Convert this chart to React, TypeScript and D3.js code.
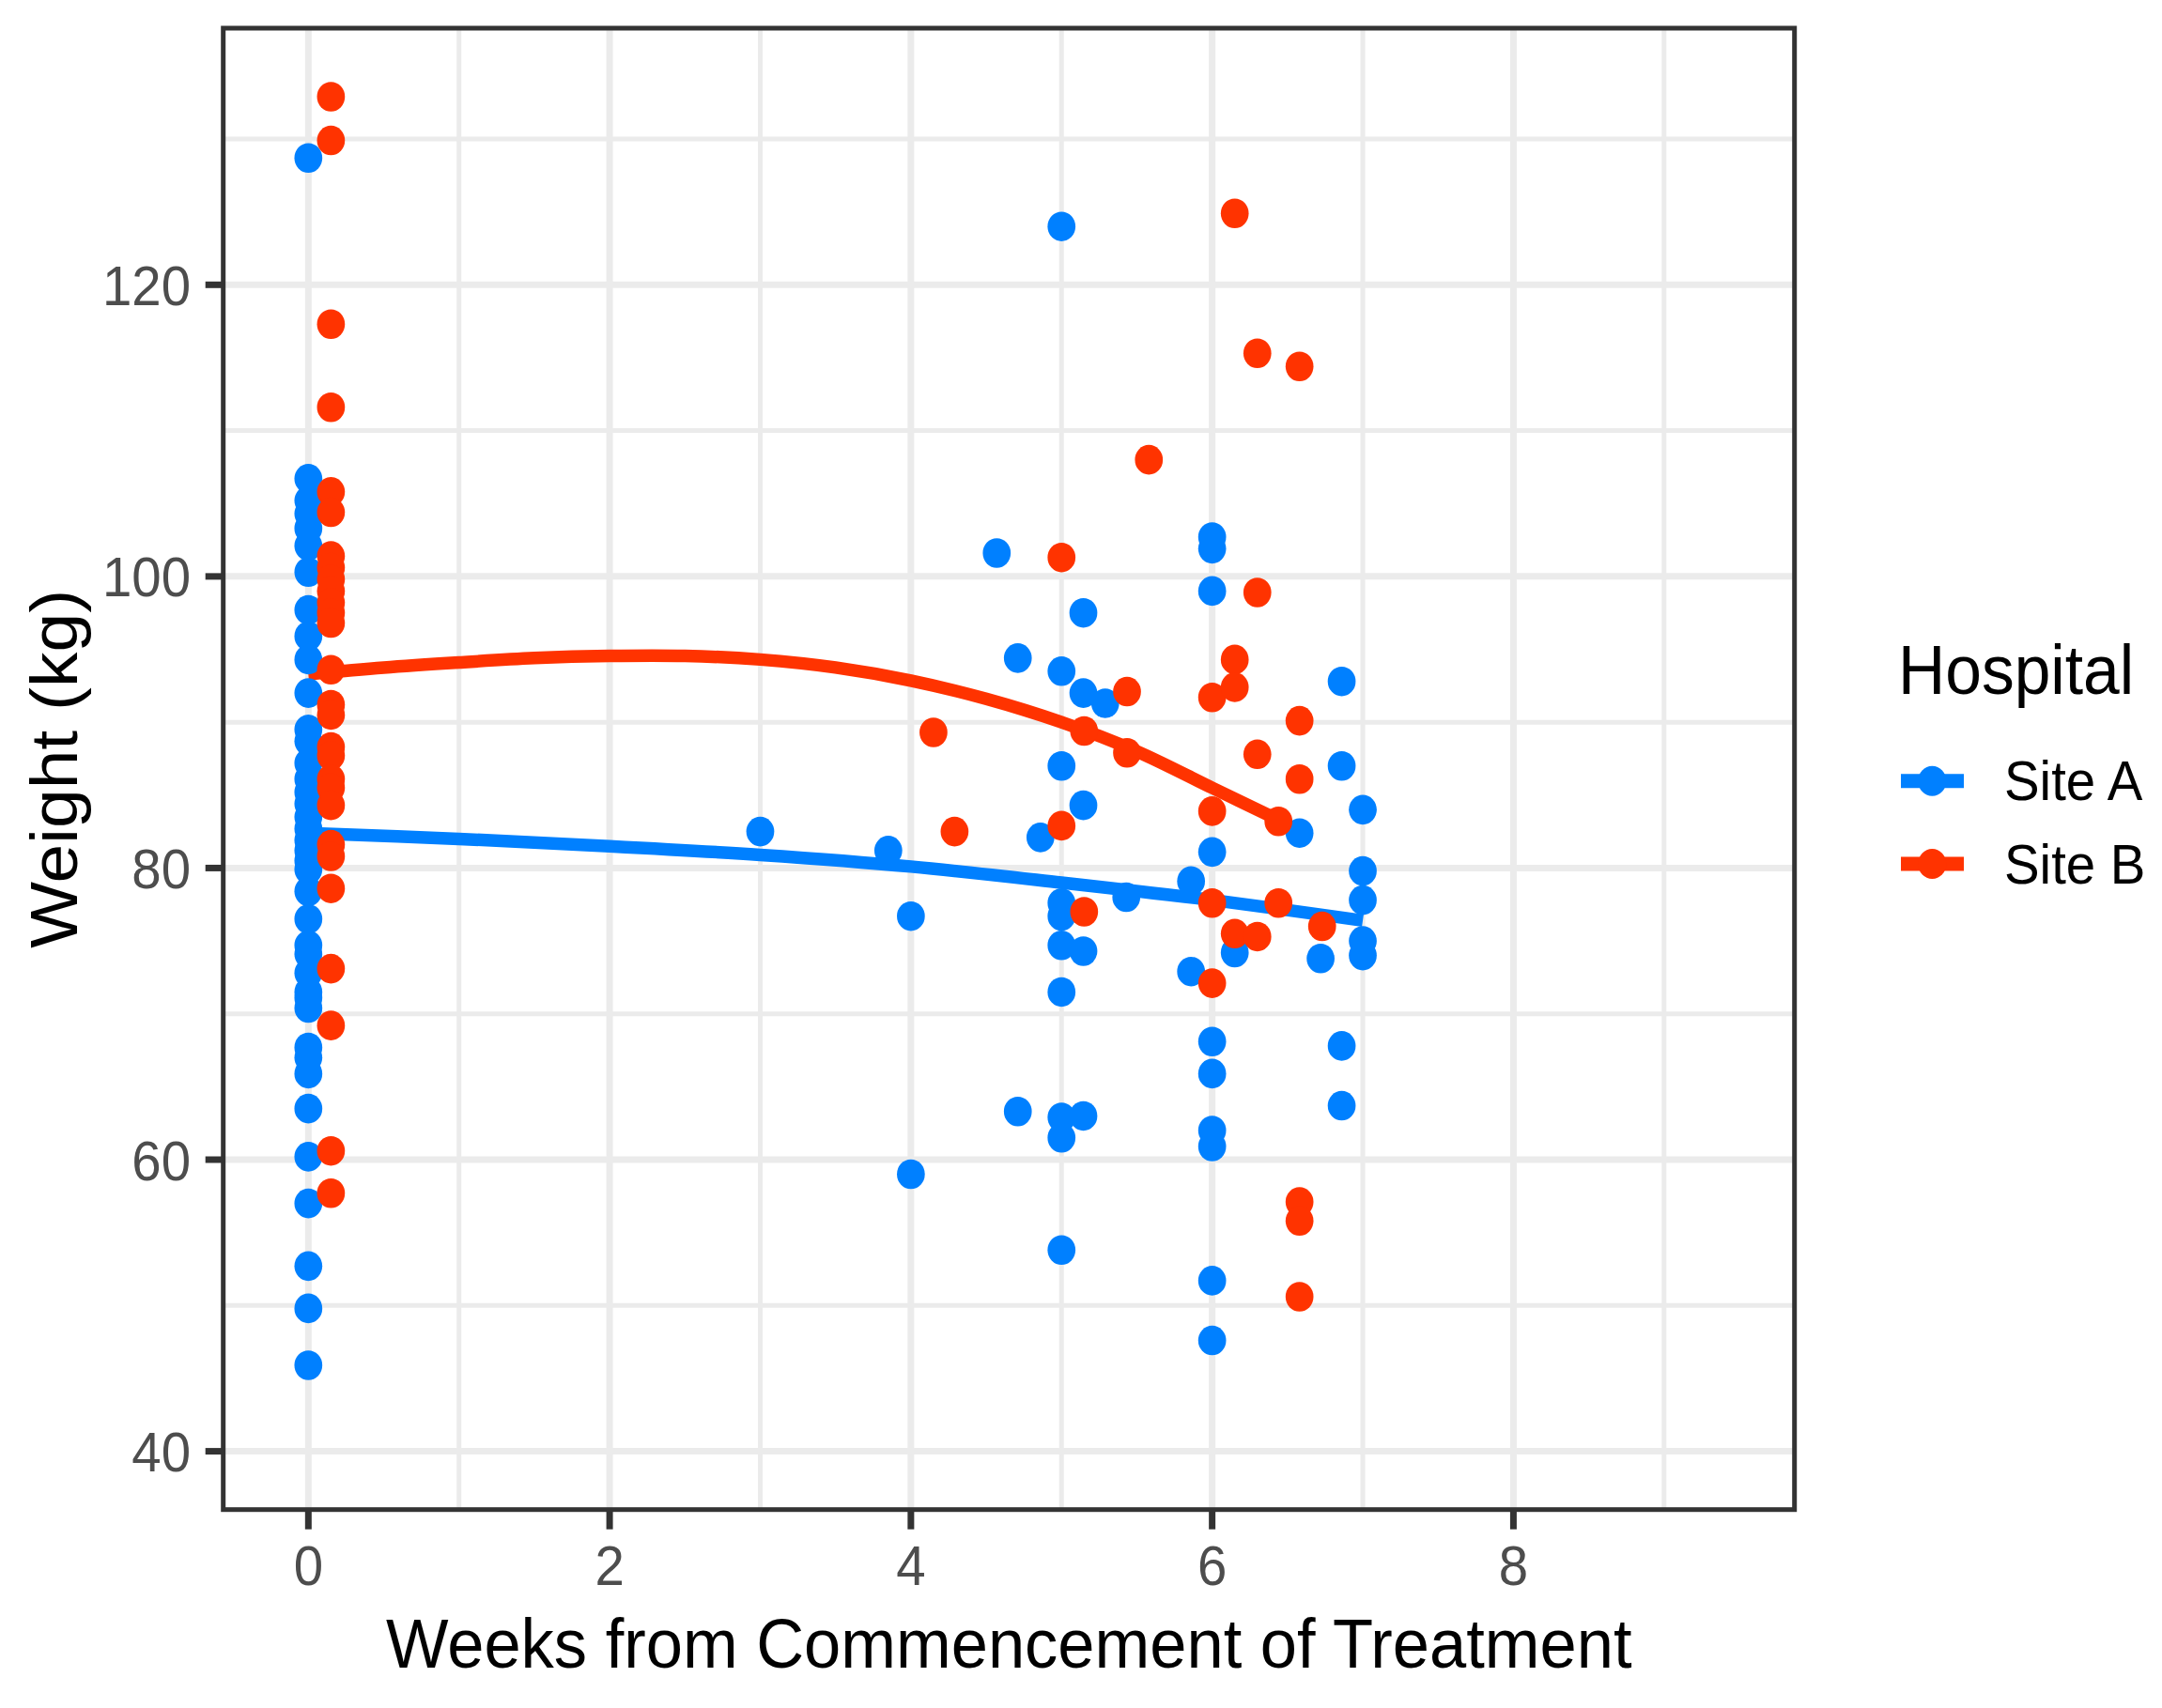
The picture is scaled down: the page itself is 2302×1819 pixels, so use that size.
import React, { useEffect, useRef } from "react";
import * as d3 from "d3";

// Site A: weights recorded at week 0
const siteAWeek0 = [
  128.7, 106.7, 105.2, 104.3, 103.3, 102.1, 100.3, 97.7, 95.9, 94.3, 92.0,
  89.5, 88.7, 87.2, 86.1, 85.2, 84.4, 83.5, 82.7, 81.9, 81.2, 80.5, 79.9,
  78.4, 76.5, 74.7, 74.1, 72.8, 71.5, 71.1, 70.4, 67.7, 67.0, 65.9, 63.5,
  60.2, 57.0, 52.7, 49.8, 45.9,
];

// Site A: follow-up [week, weight]
const siteALater: [number, number][] = [
  [3.0, 82.5], [3.85, 81.2], [4.0, 76.7], [4.0, 59.0], [4.57, 101.6],
  [4.71, 94.4], [4.71, 63.3], [4.86, 82.1], [5.0, 124.0], [5.0, 93.5],
  [5.0, 87.0], [5.0, 77.6], [5.0, 76.7], [5.0, 74.7], [5.0, 71.5],
  [5.0, 62.9], [5.0, 61.5], [5.0, 53.8], [5.145, 97.5], [5.145, 92.0],
  [5.145, 84.3], [5.145, 74.3], [5.145, 63.0], [5.29, 91.3], [5.43, 78.0],
  [5.86, 79.1], [5.86, 72.9], [6.0, 102.7], [6.0, 101.9], [6.0, 99.0],
  [6.0, 81.1], [6.0, 68.1], [6.0, 65.9], [6.0, 62.0], [6.0, 60.9],
  [6.0, 51.7], [6.0, 47.6], [6.15, 74.2], [6.58, 82.4], [6.72, 73.8],
  [6.86, 92.8], [6.86, 87.0], [6.86, 67.8], [6.86, 63.7], [7.0, 84.0],
  [7.0, 79.8], [7.0, 77.8], [7.0, 75.0], [7.0, 74.0],
];

// Site B: weights recorded at week 0 (drawn at 0.15)
const siteBWeek0 = [
  132.9, 129.9, 117.3, 111.6, 105.8, 104.4, 101.4, 100.6, 99.8, 99.0, 98.2,
  97.5, 96.8, 93.6, 91.2, 90.5, 88.3, 87.7, 86.1, 85.5, 84.3, 81.6, 80.8,
  78.6, 73.1, 69.2, 60.6, 57.7,
];

// Site B: follow-up [week, weight]
const siteBLater: [number, number][] = [
  [4.15, 89.3], [4.29, 82.5], [5.0, 101.3], [5.0, 82.9], [5.15, 89.4],
  [5.15, 77.0], [5.435, 92.1], [5.435, 87.9], [5.58, 108.0], [6.0, 91.7],
  [6.0, 83.9], [6.0, 77.6], [6.0, 72.1], [6.15, 124.9], [6.15, 94.3],
  [6.15, 92.4], [6.15, 75.5], [6.3, 115.3], [6.3, 98.9], [6.3, 87.8],
  [6.3, 75.3], [6.44, 83.2], [6.44, 77.6], [6.58, 114.4], [6.58, 90.1],
  [6.58, 86.1], [6.58, 57.1], [6.58, 55.8], [6.58, 50.6], [6.73, 76.0],
];

// smoothed trend lines [week, weight]
const smoothA: [number, number][] = [
  [0, 82.4], [1, 82.0], [2, 81.5], [3, 80.9], [4, 80.1], [5, 79.0],
  [6, 77.8], [7, 76.4],
];
const smoothB: [number, number][] = [
  [0, 93.3], [0.5, 93.75], [1, 94.1], [1.5, 94.4], [2, 94.55], [2.5, 94.55],
  [3, 94.3], [3.5, 93.75], [4, 92.85], [4.5, 91.6], [5, 90.0], [5.5, 88.0],
  [6, 85.5], [6.44, 83.3],
];

const xTicks = [0, 2, 4, 6, 8];
const xMinor = [1, 3, 5, 7, 9];
const yTicks = [40, 60, 80, 100, 120];
const yMinor = [50, 70, 90, 110, 130];
const siteBOffset = 0.15;

const BLUE = "#0080ff";
const RED = "#ff3300";
// the picture is squeezed a little horizontally
const SX = 0.94;

const App: React.FC = () => {
  const ref = useRef<SVGSVGElement>(null);

  useEffect(() => {
    const svg = d3.select(ref.current);
    svg.selectAll("*").remove();

    const panel = { left: 237.7, right: 1910.7, top: 30, bottom: 1607.7 };

    const x = d3.scaleLinear().domain([-0.565, 9.866]).range([panel.left, panel.right]);
    const y = d3.scaleLinear().domain([36.0, 137.6]).range([panel.bottom, panel.top]);

    const font = "'Liberation Sans', Arial, sans-serif";
    const at = (px: number, py: number) => `translate(${px},${py}) scale(${SX},1)`;

    svg
      .append("rect")
      .attr("x", panel.left)
      .attr("y", panel.top)
      .attr("width", panel.right - panel.left)
      .attr("height", panel.bottom - panel.top)
      .attr("fill", "#fff");

    // grid
    const grid = svg.append("g").attr("stroke", "#ebebeb");
    grid
      .append("g")
      .selectAll("line")
      .data(xMinor)
      .join("line")
      .attr("x1", (d) => x(d))
      .attr("x2", (d) => x(d))
      .attr("y1", panel.top)
      .attr("y2", panel.bottom)
      .attr("stroke-width", 5);
    grid
      .append("g")
      .selectAll("line")
      .data(yMinor)
      .join("line")
      .attr("x1", panel.left)
      .attr("x2", panel.right)
      .attr("y1", (d) => y(d))
      .attr("y2", (d) => y(d))
      .attr("stroke-width", 5);
    grid
      .append("g")
      .selectAll("line")
      .data(xTicks)
      .join("line")
      .attr("x1", (d) => x(d))
      .attr("x2", (d) => x(d))
      .attr("y1", panel.top)
      .attr("y2", panel.bottom)
      .attr("stroke-width", 7);
    grid
      .append("g")
      .selectAll("line")
      .data(yTicks)
      .join("line")
      .attr("x1", panel.left)
      .attr("x2", panel.right)
      .attr("y1", (d) => y(d))
      .attr("y2", (d) => y(d))
      .attr("stroke-width", 7);

    // smooth lines
    const line = d3
      .line<[number, number]>()
      .x((d) => x(d[0]))
      .y((d) => y(d[1]))
      .curve(d3.curveCatmullRom);

    [
      { color: BLUE, smooth: smoothA },
      { color: RED, smooth: smoothB },
    ].forEach((s) => {
      svg
        .append("path")
        .attr("d", line(s.smooth))
        .attr("fill", "none")
        .attr("stroke", s.color)
        .attr("stroke-width", 13.5);
    });

    // points
    const ptsA: [number, number][] = siteAWeek0
      .map((w) => [0, w] as [number, number])
      .concat(siteALater);
    const ptsB: [number, number][] = siteBWeek0
      .map((w) => [siteBOffset, w] as [number, number])
      .concat(siteBLater);

    [
      { pts: ptsA, color: BLUE },
      { pts: ptsB, color: RED },
    ].forEach((s) => {
      svg
        .append("g")
        .selectAll("ellipse")
        .data(s.pts)
        .join("ellipse")
        .attr("cx", (d) => x(d[0]))
        .attr("cy", (d) => y(d[1]))
        .attr("rx", 15.8 * SX)
        .attr("ry", 15.8)
        .attr("fill", s.color);
    });

    // panel border
    svg
      .append("rect")
      .attr("x", panel.left)
      .attr("y", panel.top)
      .attr("width", panel.right - panel.left)
      .attr("height", panel.bottom - panel.top)
      .attr("fill", "none")
      .attr("stroke", "#333333")
      .attr("stroke-width", 5);

    // y axis
    const yAxis = svg.append("g");
    yAxis
      .selectAll("line")
      .data(yTicks)
      .join("line")
      .attr("x1", panel.left - 19)
      .attr("x2", panel.left)
      .attr("y1", (d) => y(d))
      .attr("y2", (d) => y(d))
      .attr("stroke", "#333333")
      .attr("stroke-width", 7);
    yAxis
      .selectAll("text")
      .data(yTicks)
      .join("text")
      .attr("transform", (d) => at(203, y(d)))
      .attr("dy", "0.36em")
      .attr("text-anchor", "end")
      .attr("font-family", font)
      .attr("font-size", 60)
      .attr("fill", "#4d4d4d")
      .text((d) => d);

    // x axis
    const xAxis = svg.append("g");
    xAxis
      .selectAll("line")
      .data(xTicks)
      .join("line")
      .attr("x1", (d) => x(d))
      .attr("x2", (d) => x(d))
      .attr("y1", panel.bottom)
      .attr("y2", panel.bottom + 21)
      .attr("stroke", "#333333")
      .attr("stroke-width", 7);
    xAxis
      .selectAll("text")
      .data(xTicks)
      .join("text")
      .attr("transform", (d) => at(x(d), 1688))
      .attr("text-anchor", "middle")
      .attr("font-family", font)
      .attr("font-size", 60)
      .attr("fill", "#4d4d4d")
      .text((d) => d);

    // axis titles
    svg
      .append("text")
      .attr("transform", at((panel.left + panel.right) / 2, 1776))
      .attr("text-anchor", "middle")
      .attr("font-family", font)
      .attr("font-size", 75)
      .attr("fill", "#000")
      .text("Weeks from Commencement of Treatment");
    svg
      .append("text")
      .attr(
        "transform",
        `translate(82, ${(panel.top + panel.bottom) / 2}) scale(${SX},1) rotate(-90)`
      )
      .attr("text-anchor", "middle")
      .attr("font-family", font)
      .attr("font-size", 75)
      .attr("fill", "#000")
      .text("Weight (kg)");

    // legend
    const legend = svg.append("g");
    legend
      .append("text")
      .attr("transform", at(2021, 739))
      .attr("font-family", font)
      .attr("font-size", 74)
      .attr("fill", "#000")
      .text("Hospital");
    [
      { label: "Site A", color: BLUE, cy: 831.7, ty: 852.3 },
      { label: "Site B", color: RED, cy: 920, ty: 941 },
    ].forEach((k) => {
      legend
        .append("line")
        .attr("x1", 2024)
        .attr("x2", 2091)
        .attr("y1", k.cy)
        .attr("y2", k.cy)
        .attr("stroke", k.color)
        .attr("stroke-width", 15);
      legend
        .append("ellipse")
        .attr("cx", 2057.3)
        .attr("cy", k.cy)
        .attr("rx", 16 * SX)
        .attr("ry", 16)
        .attr("fill", k.color);
      legend
        .append("text")
        .attr("transform", at(2134, k.ty))
        .attr("font-family", font)
        .attr("font-size", 60)
        .attr("fill", "#000")
        .text(k.label);
    });
  }, []);

  return (
    <svg
      ref={ref}
      width={2302}
      height={1819}
      style={{ position: "absolute", left: 0, top: 0, background: "#fff" }}
    />
  );
};

export default App;
